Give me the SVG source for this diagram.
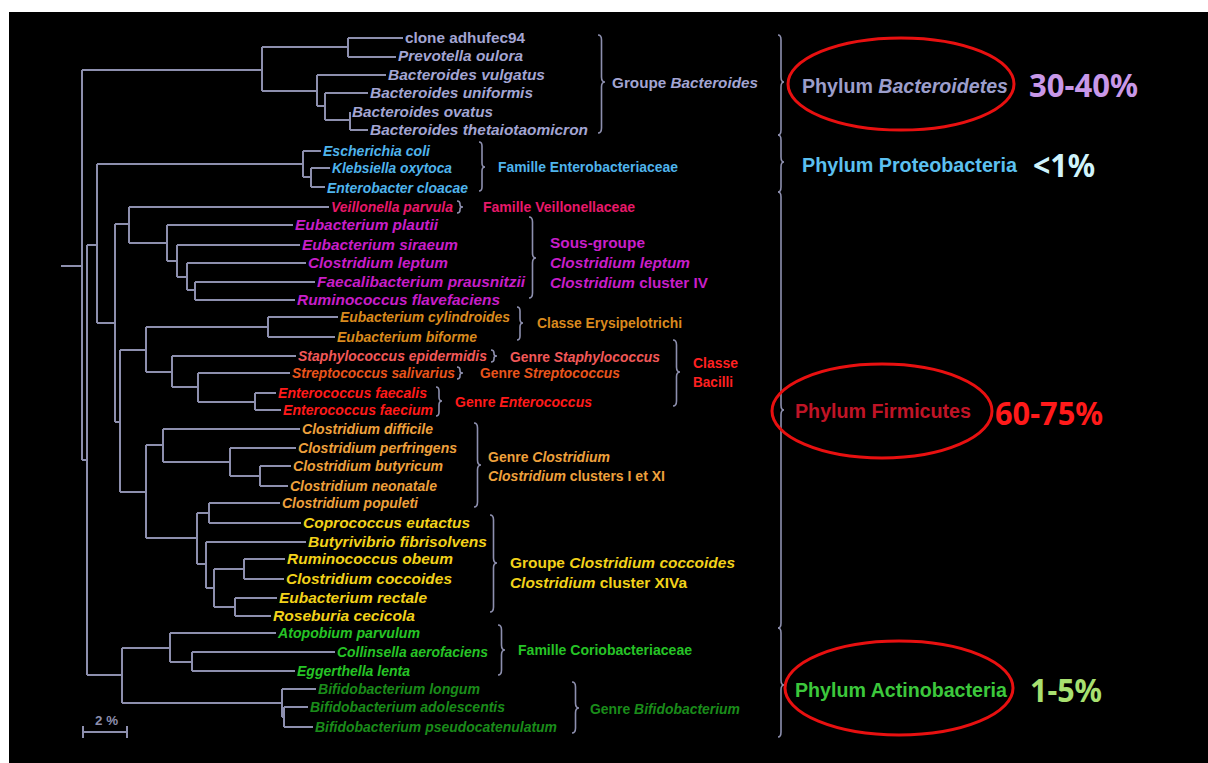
<svg xmlns="http://www.w3.org/2000/svg" width="1208" height="763" viewBox="0 0 1208 763">
<style>
.t{font-family:"Liberation Sans",Arial,sans-serif;font-weight:bold;font-style:italic;font-size:14px}
.n{font-style:normal}
.i{font-style:italic}
.big{font-size:15.3px}
.ph{font-family:"Liberation Sans",Arial,sans-serif;font-weight:bold;font-size:20px}
.pc{font-family:"Noto Sans","Open Sans",sans-serif;font-weight:bold;font-size:32px}
.bac{fill:#a3a5d3}.pro{fill:#4fb4ec}.vei{fill:#e8196a}.lep{fill:#c81ec8}.ery{fill:#d98a1e}
.sta{fill:#f25858}.str{fill:#e8541c}.ent{fill:#ff1a1a}.bci{fill:#ff2020}.clo{fill:#eea03c}
.coc{fill:#f2d21a}.cor{fill:#26c426}.bif{fill:#1a8c1a}
.tree{fill:none;stroke:#8d8fae;stroke-width:2}
.br{fill:none;stroke:#8d8fae;stroke-width:1.6}
.ell{fill:none;stroke:#e81010;stroke-width:3}
</style>
<rect x="0" y="0" width="1208" height="763" fill="#ffffff"/>
<rect x="9" y="12" width="1199" height="751" fill="#000000"/>

<g id="connectors">
<path class="tree" d="M61,266H82M82,70V460M82,70H262M262,47V91M262,47H348M348,38V57M348,38H403M348,57H396M262,91H317M317,75V106M317,75H386M317,106H325M325,93V120M325,93H368M325,120H350M350,112V130M350,130H368
M82,460H87M87,245V675M87,245H97M97,164V323M97,164H303M303,151V177M303,151H321M303,177H311M311,168V187M311,168H330M311,187H325
M97,323H115M115,224V422M115,224H129M129,207V243M129,207H329M129,243H167M167,225V261M167,225H293M167,261H177M177,245V277M177,245H300M177,277H187M187,263V290M187,263H306M187,290H195M195,282V300M195,282H315M195,300H295
M115,422H120M120,350V492M120,350H146M146,327V372M146,327H268M268,317V337M268,317H338M268,337H335M146,372H172M172,356V387M172,356H296M172,387H198M198,373V402M198,373H290M198,402H255M255,393V410M255,393H276M255,410H281
M120,492H146M146,445V538M146,445H163M163,429V462M163,429H300M163,462H230M230,448V476M230,448H296M230,476H260M260,466V486M260,466H291M260,486H288
M146,538H197M197,513V564M197,513H209M209,503V523M209,503H280M209,523H301M197,564H206M206,542V588M206,542H306M206,588H214M214,569V607M214,569H244M244,559V579M244,559H285M244,579H284M214,607H235M235,598V616M235,598H277M235,616H271
M87,675H122M122,648V703M122,648H170M170,633V662M170,633H276M170,662H192M192,652V671M192,652H335M192,671H295M122,703H282M282,689V717M282,689H316M282,717H284M284,707V727M284,707H308M284,727H313"/>
<g id="brackets">
<path class="br" d="M598,35Q601.5,35 601.5,40V77Q601.5,82 605,82Q601.5,82 601.5,87V128Q601.5,133 598,133"/>
<path class="br" d="M479,142Q482,142 482,146V163Q482,167 485,167Q482,167 482,171V187Q482,191 479,191"/>
<path class="br" d="M457,201Q460,201 460,204V205Q460,207 463,207Q460,207 460,209V210Q460,213 457,213"/>
<path class="br" d="M529,217Q532.5,217 532.5,222V253Q532.5,258 536,258Q532.5,258 532.5,263V293Q532.5,298 529,298"/>
<path class="br" d="M517,307Q520,307 520,311V319Q520,323 523,323Q520,323 520,327V336Q520,340 517,340"/>
<path class="br" d="M491,350Q494,350 494,353V354Q494,356 497,356Q494,356 494,358V359Q494,362 491,362"/>
<path class="br" d="M457,367Q460,367 460,370V371Q460,373 463,373Q460,373 460,375V376Q460,379 457,379"/>
<path class="br" d="M436,387Q439,387 439,391V397Q439,401 442,401Q439,401 439,405V412Q439,416 436,416"/>
<path class="br" d="M673,340Q676.5,340 676.5,345V367Q676.5,372 680,372Q676.5,372 676.5,377V401Q676.5,406 673,406"/>
<path class="br" d="M474,423Q477.5,423 477.5,428V460Q477.5,465 481,465Q477.5,465 477.5,470V502Q477.5,507 474,507"/>
<path class="br" d="M490,515Q493.5,515 493.5,520V558Q493.5,563 497,563Q493.5,563 493.5,568V607Q493.5,612 490,612"/>
<path class="br" d="M498,625Q501.5,625 501.5,630V645Q501.5,650 505,650Q501.5,650 501.5,655V670Q501.5,675 498,675"/>
<path class="br" d="M572,682Q575.5,682 575.5,687V703Q575.5,708 579,708Q575.5,708 575.5,713V728Q575.5,733 572,733"/>
<path class="br" d="M778,35Q781,35 781,40V77Q781,82 784,82Q781,82 781,87V130Q781,135 778,135"/>
<path class="br" d="M778,135Q781,135 781,140V157Q781,162 784,162Q781,162 781,167V187Q781,192 778,192"/>
<path class="br" d="M778,192Q781,192 781,197V405Q781,410 784,410Q781,410 781,415V623Q781,628 778,628"/>
<path class="br" d="M778,628Q781,628 781,633V680Q781,685 784,685Q781,685 781,690V732Q781,737 778,737"/>
</g>
<g id="scalebar">
<path class="tree" d="M83,732H127M83,726V738M127,726V738"/>
<text x="95" y="725" class="t n" style="fill:#8d8fae;font-size:13px" textLength="23" lengthAdjust="spacingAndGlyphs">2 %</text>
</g>
</g>

<g id="leaf-clone"><text class="t big bac n" x="405" y="43" textLength="120" lengthAdjust="spacingAndGlyphs">clone adhufec94</text></g>
<g id="leaf-prevotella"><text class="t big bac" x="398" y="61" textLength="125" lengthAdjust="spacingAndGlyphs">Prevotella oulora</text></g>
<g id="leaf-bvulgatus"><text class="t big bac" x="388" y="80" textLength="157" lengthAdjust="spacingAndGlyphs">Bacteroides vulgatus</text></g>
<g id="leaf-buniformis"><text class="t big bac" x="370" y="98" textLength="163" lengthAdjust="spacingAndGlyphs">Bacteroides uniformis</text></g>
<g id="leaf-bovatus"><text class="t big bac" x="352" y="117" textLength="141" lengthAdjust="spacingAndGlyphs">Bacteroides ovatus</text></g>
<g id="leaf-btheta"><text class="t big bac" x="370" y="135" textLength="218" lengthAdjust="spacingAndGlyphs">Bacteroides thetaiotaomicron</text></g>
<g id="lbl-bacteroides"><text class="t big bac n" x="612" y="88" textLength="146" lengthAdjust="spacingAndGlyphs">Groupe <tspan class="i">Bacteroides</tspan></text></g>

<g id="leaf-ecoli"><text class="t pro" x="323" y="156" textLength="107" lengthAdjust="spacingAndGlyphs">Escherichia coli</text></g>
<g id="leaf-klebsiella"><text class="t pro" x="332" y="173" textLength="120" lengthAdjust="spacingAndGlyphs">Klebsiella oxytoca</text></g>
<g id="leaf-enterobacter"><text class="t pro" x="327" y="193" textLength="141" lengthAdjust="spacingAndGlyphs">Enterobacter cloacae</text></g>
<g id="lbl-enterobacteriaceae"><text class="t pro n" x="498" y="172" textLength="180" lengthAdjust="spacingAndGlyphs">Famille Enterobacteriaceae</text></g>

<g id="leaf-veillonella"><text class="t vei" x="331" y="212" textLength="122" lengthAdjust="spacingAndGlyphs">Veillonella parvula</text></g>
<g id="lbl-veillonellaceae"><text class="t vei n" x="483" y="212" textLength="152" lengthAdjust="spacingAndGlyphs">Famille Veillonellaceae</text></g>

<g id="leaf-eplautii"><text class="t big lep" x="295" y="230" textLength="143" lengthAdjust="spacingAndGlyphs">Eubacterium plautii</text></g>
<g id="leaf-esiraeum"><text class="t big lep" x="302" y="250" textLength="156" lengthAdjust="spacingAndGlyphs">Eubacterium siraeum</text></g>
<g id="leaf-cleptum"><text class="t big lep" x="308" y="268" textLength="140" lengthAdjust="spacingAndGlyphs">Clostridium leptum</text></g>
<g id="leaf-faecali"><text class="t big lep" x="317" y="287" textLength="208" lengthAdjust="spacingAndGlyphs">Faecalibacterium prausnitzii</text></g>
<g id="leaf-rflavefaciens"><text class="t big lep" x="297" y="305" textLength="203" lengthAdjust="spacingAndGlyphs">Ruminococcus flavefaciens</text></g>
<g id="lbl-leptum">
<text class="t big lep n" x="550" y="248" textLength="95" lengthAdjust="spacingAndGlyphs">Sous-groupe</text>
<text class="t big lep" x="550" y="268" textLength="140" lengthAdjust="spacingAndGlyphs">Clostridium leptum</text>
<text class="t big lep n" x="550" y="288" textLength="158" lengthAdjust="spacingAndGlyphs"><tspan class="i">Clostridium</tspan> cluster IV</text>
</g>

<g id="leaf-ecylindroides"><text class="t ery" x="340" y="322" textLength="170" lengthAdjust="spacingAndGlyphs">Eubacterium cylindroides</text></g>
<g id="leaf-ebiforme"><text class="t ery" x="337" y="342" textLength="140" lengthAdjust="spacingAndGlyphs">Eubacterium biforme</text></g>
<g id="lbl-erysipelotrichi"><text class="t ery n" x="537" y="328" textLength="145" lengthAdjust="spacingAndGlyphs">Classe Erysipelotrichi</text></g>

<g id="leaf-staph"><text class="t sta" x="298" y="361" textLength="189" lengthAdjust="spacingAndGlyphs">Staphylococcus epidermidis</text></g>
<g id="lbl-staph"><text class="t sta n" x="510" y="362" textLength="150" lengthAdjust="spacingAndGlyphs">Genre <tspan class="i">Staphylococcus</tspan></text></g>
<g id="leaf-strepto"><text class="t str" x="292" y="378" textLength="163" lengthAdjust="spacingAndGlyphs">Streptococcus salivarius</text></g>
<g id="lbl-strepto"><text class="t str n" x="480" y="378" textLength="140" lengthAdjust="spacingAndGlyphs">Genre <tspan class="i">Streptococcus</tspan></text></g>
<g id="leaf-efaecalis"><text class="t ent" x="278" y="398" textLength="149" lengthAdjust="spacingAndGlyphs">Enterococcus faecalis</text></g>
<g id="leaf-efaecium"><text class="t ent" x="283" y="415" textLength="150" lengthAdjust="spacingAndGlyphs">Enterococcus faecium</text></g>
<g id="lbl-enterococcus"><text class="t ent n" x="455" y="407" textLength="137" lengthAdjust="spacingAndGlyphs">Genre <tspan class="i">Enterococcus</tspan></text></g>
<g id="lbl-bacilli">
<text class="t bci n" x="693" y="368" textLength="45" lengthAdjust="spacingAndGlyphs">Classe</text>
<text class="t bci n" x="693" y="387" textLength="40" lengthAdjust="spacingAndGlyphs">Bacilli</text>
</g>

<g id="leaf-cdifficile"><text class="t clo" x="302" y="434" textLength="131" lengthAdjust="spacingAndGlyphs">Clostridium difficile</text></g>
<g id="leaf-cperfringens"><text class="t clo" x="298" y="453" textLength="159" lengthAdjust="spacingAndGlyphs">Clostridium perfringens</text></g>
<g id="leaf-cbutyricum"><text class="t clo" x="293" y="471" textLength="150" lengthAdjust="spacingAndGlyphs">Clostridium butyricum</text></g>
<g id="leaf-cneonatale"><text class="t clo" x="290" y="491" textLength="147" lengthAdjust="spacingAndGlyphs">Clostridium neonatale</text></g>
<g id="leaf-cpopuleti"><text class="t clo" x="282" y="508" textLength="136" lengthAdjust="spacingAndGlyphs">Clostridium populeti</text></g>
<g id="lbl-clostridium">
<text class="t clo n" x="488" y="462" textLength="122" lengthAdjust="spacingAndGlyphs">Genre <tspan class="i">Clostridium</tspan></text>
<text class="t clo n" x="488" y="481" textLength="177" lengthAdjust="spacingAndGlyphs"><tspan class="i">Clostridium</tspan> clusters I et XI</text>
</g>

<g id="leaf-coprococcus"><text class="t big coc" x="303" y="528" textLength="167" lengthAdjust="spacingAndGlyphs">Coprococcus eutactus</text></g>
<g id="leaf-butyrivibrio"><text class="t big coc" x="308" y="547" textLength="179" lengthAdjust="spacingAndGlyphs">Butyrivibrio fibrisolvens</text></g>
<g id="leaf-robeum"><text class="t big coc" x="287" y="564" textLength="166" lengthAdjust="spacingAndGlyphs">Ruminococcus obeum</text></g>
<g id="leaf-ccoccoides"><text class="t big coc" x="286" y="584" textLength="166" lengthAdjust="spacingAndGlyphs">Clostridium coccoides</text></g>
<g id="leaf-erectale"><text class="t big coc" x="279" y="603" textLength="148" lengthAdjust="spacingAndGlyphs">Eubacterium rectale</text></g>
<g id="leaf-roseburia"><text class="t big coc" x="273" y="621" textLength="142" lengthAdjust="spacingAndGlyphs">Roseburia cecicola</text></g>
<g id="lbl-coccoides">
<text class="t big coc n" x="510" y="568" textLength="225" lengthAdjust="spacingAndGlyphs">Groupe <tspan class="i">Clostridium coccoides</tspan></text>
<text class="t big coc n" x="510" y="588" textLength="177" lengthAdjust="spacingAndGlyphs"><tspan class="i">Clostridium</tspan> cluster XIVa</text>
</g>

<g id="leaf-atopobium"><text class="t cor" x="278" y="638" textLength="142" lengthAdjust="spacingAndGlyphs">Atopobium parvulum</text></g>
<g id="leaf-collinsella"><text class="t cor" x="337" y="657" textLength="151" lengthAdjust="spacingAndGlyphs">Collinsella aerofaciens</text></g>
<g id="leaf-eggerthella"><text class="t cor" x="297" y="676" textLength="113" lengthAdjust="spacingAndGlyphs">Eggerthella lenta</text></g>
<g id="lbl-coriobacteriaceae"><text class="t cor n" x="518" y="655" textLength="174" lengthAdjust="spacingAndGlyphs">Famille Coriobacteriaceae</text></g>

<g id="leaf-blongum"><text class="t bif" x="318" y="694" textLength="162" lengthAdjust="spacingAndGlyphs">Bifidobacterium longum</text></g>
<g id="leaf-badolescentis"><text class="t bif" x="310" y="712" textLength="195" lengthAdjust="spacingAndGlyphs">Bifidobacterium adolescentis</text></g>
<g id="leaf-bpseudo"><text class="t bif" x="315" y="732" textLength="242" lengthAdjust="spacingAndGlyphs">Bifidobacterium pseudocatenulatum</text></g>
<g id="lbl-bifidobacterium"><text class="t bif n" x="590" y="714" textLength="150" lengthAdjust="spacingAndGlyphs">Genre <tspan class="i">Bifidobacterium</tspan></text></g>

<g id="phylum-bacteroidetes">
<ellipse class="ell" cx="901" cy="84" rx="113" ry="46"/>
<text class="ph" x="802" y="93" fill="#9c9ecb" textLength="206" lengthAdjust="spacingAndGlyphs">Phylum <tspan font-style="italic">Bacteroidetes</tspan></text>
<text class="pc" x="1029" y="97" fill="#c898e8" textLength="109" lengthAdjust="spacingAndGlyphs">30-40%</text>
</g>
<g id="phylum-proteobacteria">
<text class="ph" x="802" y="172" fill="#5cc0f0" textLength="215" lengthAdjust="spacingAndGlyphs">Phylum Proteobacteria</text>
<text class="pc" x="1033" y="177" fill="#d0f4fc" textLength="62" lengthAdjust="spacingAndGlyphs">&lt;1%</text>
</g>
<g id="phylum-firmicutes">
<ellipse class="ell" cx="882" cy="411" rx="110" ry="47"/>
<text class="ph" x="795" y="418" fill="#c01426" textLength="176" lengthAdjust="spacingAndGlyphs">Phylum Firmicutes</text>
<text class="pc" x="995" y="425" fill="#ff1a1a" textLength="108" lengthAdjust="spacingAndGlyphs">60-75%</text>
</g>
<g id="phylum-actinobacteria">
<ellipse class="ell" cx="899" cy="688" rx="114" ry="47"/>
<text class="ph" x="795" y="697" fill="#3cc83c" textLength="212" lengthAdjust="spacingAndGlyphs">Phylum Actinobacteria</text>
<text class="pc" x="1030" y="702" fill="#a8e070" textLength="72" lengthAdjust="spacingAndGlyphs">1-5%</text>
</g>
</svg>
